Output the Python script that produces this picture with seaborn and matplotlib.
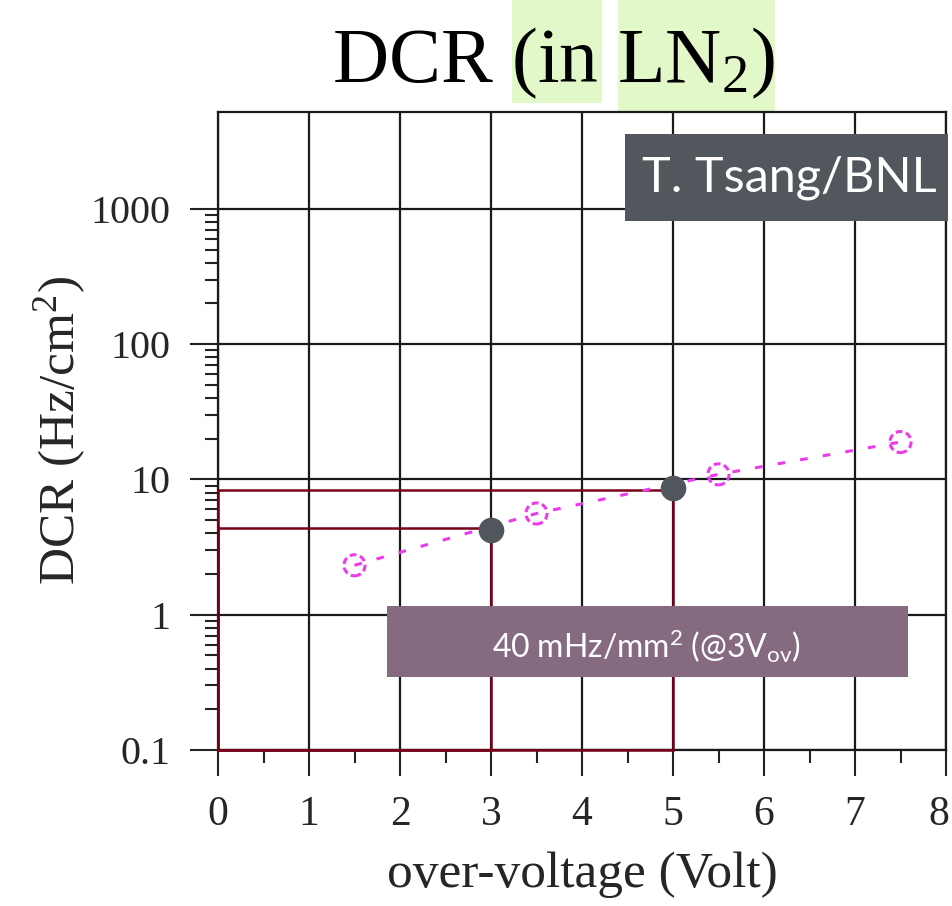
import numpy as np
import pandas as pd
import matplotlib
matplotlib.use("Agg")
import matplotlib.pyplot as plt
import matplotlib.ticker as mticker
import matplotlib.transforms as mtrans
from matplotlib.patches import Rectangle
import seaborn as sns

# ---- data ----
ov_meas = [1.5, 3.5, 5.5, 7.5]          # over-voltage (V), measured points
dcr_meas = [2.32, 5.6, 10.9, 18.9]      # DCR (Hz/cm^2)
ov_mark = [3, 5]                        # highlighted points
dcr_mark = [4.2, 8.7]
rect_x = [3, 5]                         # guide rectangles (to x, to y)
rect_y = [4.4, 8.4]
y_major = [0.1, 1, 10, 100, 1000]
y_labels = ["0.1", "1", "10", "100", "1000"]
x_major = [0, 1, 2, 3, 4, 5, 6, 7, 8]
x_labels = ["0", "1", "2", "3", "4", "5", "6", "7", "8"]

MAG = "#ea3cea"
MAROON = "#780018"
DOT = "#50565c"

sns.set_theme(style="white")
plt.rcParams["font.family"] = ["Liberation Serif", "DejaVu Serif"]
plt.rcParams["mathtext.fontset"] = "custom"
plt.rcParams["mathtext.rm"] = "Liberation Serif"
plt.rcParams["mathtext.it"] = "Liberation Serif:italic"
plt.rcParams["mathtext.sf"] = "Lato"

W, H = 953, 906
fig = plt.figure(figsize=(W / 100, H / 100), dpi=100)
fig.patch.set_facecolor("white")

L, R, T, B = 218, 946, 112, 750
ax = fig.add_axes([L / W, 1 - B / H, (R - L) / W, (B - T) / H])

df = pd.DataFrame({"ov": ov_meas, "dcr": dcr_meas})
dm = pd.DataFrame({"ov": ov_mark, "dcr": dcr_mark})

ax.set_yscale("log")
ax.set_xlim(0, 8)
ax.set_ylim(0.1, 5200)

# guide rectangles
for rx, ry in zip(rect_x, rect_y):
    ax.plot([0, 0, rx, rx, 0], [0.1, ry, ry, 0.1, 0.1], color=MAROON, lw=1.8,
            zorder=4, clip_on=False, solid_joinstyle="miter")

sns.lineplot(data=df, x="ov", y="dcr", ax=ax, color=MAG, lw=2.2,
             linestyle=(0, (2.5, 5)), zorder=5, legend=False)
sns.scatterplot(data=df, x="ov", y="dcr", ax=ax, s=230, marker="o",
                facecolor="none", edgecolor=MAG, linewidth=2.2,
                linestyle=(0, (2.2, 1.2)), zorder=6, legend=False)
sns.scatterplot(data=dm, x="ov", y="dcr", ax=ax, s=340, color=DOT,
                edgecolor=DOT, linewidth=0, zorder=7, legend=False)

# ticks
ax.xaxis.set_major_locator(mticker.FixedLocator(x_major))
ax.xaxis.set_major_formatter(mticker.FixedFormatter(x_labels))
ax.xaxis.set_minor_locator(mticker.FixedLocator([v + 0.5 for v in x_major[:-1]]))
ax.yaxis.set_major_locator(mticker.FixedLocator(y_major))
ax.yaxis.set_major_formatter(mticker.FixedFormatter(y_labels))
minors = [m * d for d in y_major[:-1] for m in range(2, 10)]
ax.yaxis.set_minor_locator(mticker.FixedLocator(minors))
ax.yaxis.set_minor_formatter(mticker.NullFormatter())

ax.tick_params(axis="x", which="major", direction="out", length=19, width=1.5,
               color="#222222", labelsize=30, pad=14, bottom=True, top=False)
ax.tick_params(axis="x", which="minor", direction="out", length=9.5, width=1.5,
               color="#222222", bottom=True, top=False)
ax.tick_params(axis="y", which="major", direction="out", length=20, width=1.5,
               color="#222222", labelsize=29, pad=14, left=True, right=False)
ax.tick_params(axis="y", which="minor", direction="out", length=9.5, width=1.5,
               color="#222222", left=True, right=False)

ax.grid(True, which="major", color="#1a1a1a", lw=1.6)
ax.set_axisbelow(True)
for s in ax.spines.values():
    s.set_color("#1a1a1a")
    s.set_linewidth(1.6)

ax.set_xlabel("over-voltage (Volt)", fontsize=37, labelpad=12)
ax.set_ylabel(r"DCR (Hz/cm$^{2}$)", fontsize=37, labelpad=2)

# keep the last x label inside the canvas
fig.canvas.draw()
last = ax.get_xticklabels()[-1]
last.set_transform(last.get_transform() +
                   mtrans.ScaledTranslation(-7 / 100, 0, fig.dpi_scale_trans))

# title with highlights
HL = "#e3f8c9"
fig.add_artist(Rectangle((512 / W, 1 - 103 / H), (602 - 512) / W, 103 / H,
                         transform=fig.transFigure, color=HL, zorder=-5, lw=0))
fig.add_artist(Rectangle((618 / W, 1 - 112 / H), (775 - 618) / W, 112 / H,
                         transform=fig.transFigure, color=HL, zorder=-5, lw=0))
fig.text(553 / W, 1 - 82 / H, r"DCR (in LN$_2$)", fontsize=56, ha="center",
         va="baseline", color="black")

# credit box
fig.add_artist(Rectangle((625 / W, 1 - 221 / H), (948 - 625) / W, (221 - 134) / H,
                         transform=fig.transFigure, color="#52575d", zorder=10, lw=0))
fig.text(789 / W, 1 - 178 / H, "T. Tsang/BNL", fontsize=35, family="Lato",
         weight="normal", color="white", ha="center", va="center", zorder=11)

# annotation box
fig.add_artist(Rectangle((387 / W, 1 - 677 / H), (908 - 387) / W, (677 - 606) / H,
                         transform=fig.transFigure, color="#856a80", zorder=10, lw=0))
fig.text(647 / W, 1 - 646 / H, r"$\mathsf{40\ mHz/mm^{2}\ (@3V_{ov})}$", fontsize=23,
         color="white", ha="center", va="center", zorder=11)

fig.savefig("out.png", dpi=100)
